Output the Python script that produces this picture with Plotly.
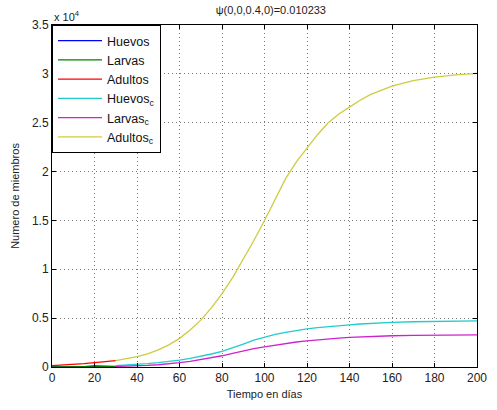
import plotly.graph_objects as go

# Base series (t = 0..30)
t_base = [0, 5, 10, 15, 20, 25, 30]
huevos = [0, 10, 20, 40, 120, 100, 30]
larvas = [0, 10, 20, 40, 60, 60, 60]
adultos = [150, 200, 260, 340, 440, 540, 650]

# Controlled series (t = 30..200)
t_c = [30, 35, 40, 45, 50, 55, 60, 65, 70, 75, 80, 85, 90, 95, 100, 105, 110, 115, 120, 125, 130,
       135, 140, 145, 150, 160, 170, 180, 190, 200]
huevos_c = [150, 200, 270, 350, 450, 570, 710, 890, 1100, 1330, 1600, 1950, 2350, 2750, 3090,
            3350, 3550, 3740, 3900, 4030, 4150, 4240, 4320, 4400, 4480, 4570, 4630, 4680, 4700, 4720]
larvas_c = [50, 70, 100, 160, 230, 320, 440, 580, 750, 940, 1150, 1390, 1650, 1870, 2070,
            2250, 2420, 2560, 2680, 2790, 2880, 2960, 3030, 3090, 3130, 3200, 3240, 3270, 3285, 3290]
adultos_c = [650, 820, 1050, 1350, 1750, 2270, 2930, 3780, 4800, 6050, 7500, 9150, 11000, 12950,
             15000, 17200, 19300, 21000, 22400, 23800, 25000, 25900, 26600, 27300, 27900,
             28750, 29300, 29660, 29900, 30050]

x_ticks = list(range(0, 201, 20))
y_tickvals = [0, 5000, 10000, 15000, 20000, 25000, 30000, 35000]
y_ticktext = ["0", "0.5", "1", "1.5", "2", "2.5", "3", "3.5"]

series = [
    ("Huevos", t_base, huevos, "#0000ff"),
    ("Larvas", t_base, larvas, "#008000"),
    ("Adultos", t_base, adultos, "#ff0000"),
    ("Huevos<sub>c</sub>", t_c, huevos_c, "#22cccc"),
    ("Larvas<sub>c</sub>", t_c, larvas_c, "#d020d0"),
    ("Adultos<sub>c</sub>", t_c, adultos_c, "#cccc40"),
]

fig = go.Figure()
for name, x, y, c in series:
    fig.add_trace(go.Scatter(x=x, y=y, mode="lines", name=name,
                             line=dict(color=c, width=1.3)))

font = dict(family="Liberation Sans, Arial, sans-serif", size=11, color="#222")
fig.update_layout(
    width=497, height=410,
    margin=dict(l=52, r=10, t=25, b=43),
    paper_bgcolor="white", plot_bgcolor="white",
    font=font,
    title=dict(text="\u03c8(0,0,0.4,0)=0.010233", x=0.545, xanchor="center",
               y=0.985, yanchor="top", font=dict(size=11, color="#222")),
    legend=dict(x=0, y=1, xanchor="left", yanchor="top",
                bordercolor="black", borderwidth=1, bgcolor="white",
                font=dict(size=12.5, color="#111"), tracegroupgap=0,
                itemwidth=44),
    showlegend=True,
)
fig.update_xaxes(range=[0, 200], tickvals=x_ticks, showline=True, linecolor="black",
                 linewidth=1, mirror="ticks", ticks="inside", ticklen=4, tickcolor="black",
                 showgrid=True, gridcolor="#777", griddash="1px,3px", gridwidth=1,
                 zeroline=False, tickfont=dict(size=12), ticklabeloverflow="allow",
                 title=dict(text="Tiempo en días", standoff=5, font=dict(size=11)))
fig.update_yaxes(range=[0, 35000], tickvals=y_tickvals, ticktext=y_ticktext, showline=True,
                 linecolor="black", linewidth=1, mirror="ticks", ticks="inside", ticklen=4,
                 tickcolor="black", showgrid=True, gridcolor="#777", griddash="1px,3px",
                 gridwidth=1, zeroline=False, tickfont=dict(size=12),
                 title=dict(text="Numero de miembros", standoff=10, font=dict(size=11)))
fig.add_annotation(text="x 10<sup>4</sup>", xref="paper", yref="paper", x=0, y=1,
                   xanchor="left", yanchor="bottom", showarrow=False,
                   font=dict(size=11, color="#222"), yshift=0)

fig.write_html("out.html")
